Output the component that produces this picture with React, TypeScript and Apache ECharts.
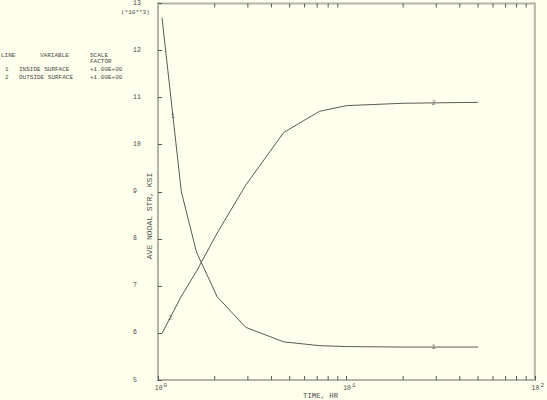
import React, { useEffect, useRef } from "react";
import * as echarts from "echarts";

const times = [1.05, 1.33, 1.6, 2.06, 2.92, 4.65, 7.2, 10, 20, 50];
const insideSurface = [12.7, 9.0, 7.72, 6.77, 6.12, 5.81, 5.73, 5.71, 5.7, 5.7];
const outsideSurface = [5.99, 6.78, 7.31, 8.12, 9.14, 10.26, 10.71, 10.83, 10.88, 10.9];
const minorTicks = [2, 3, 4, 5, 6, 7, 8, 9, 20, 30, 40, 50, 60, 70, 80, 90];
const label1Times = [1.2, 29];
const label2Times = [1.16, 29];
const yMin = 5;
const yMax = 13;

const MONO = "'Liberation Mono', 'DejaVu Sans Mono', monospace";
const INK = "#4a4a44";

function interp(t: number, xs: number[], ys: number[]): number {
  const lt = Math.log10(t);
  for (let i = 0; i < xs.length - 1; i++) {
    const a = Math.log10(xs[i]);
    const b = Math.log10(xs[i + 1]);
    if (lt >= a && lt <= b) {
      const f = (lt - a) / (b - a);
      return ys[i] + f * (ys[i + 1] - ys[i]);
    }
  }
  return ys[ys.length - 1];
}

export default function App() {
  const ref = useRef<HTMLDivElement>(null);
  useEffect(() => {
    document.body.style.margin = "0";
    const chart = echarts.init(ref.current!, null, { renderer: "svg" });
    const lineSeries = (name: string, vals: number[]) => ({
      type: "line",
      name,
      data: times.map((t, i) => [t, vals[i]]),
      symbol: "none",
      lineStyle: { color: "#5a5a55", width: 1 },
      silent: true,
    });
    const labelSeries = (txt: string, ts: number[], vals: number[]) => ({
      type: "scatter",
      data: ts.map((t) => [t, interp(t, times, vals)]),
      symbolSize: 0,
      silent: true,
      label: {
        show: true,
        position: "inside",
        formatter: txt,
        fontFamily: MONO,
        fontSize: 7,
        color: INK,
      },
    });
    const legendText = (text: string, x: number, y: number) => ({
      type: "text",
      left: x,
      top: y,
      style: { text, fontFamily: MONO, fontSize: 6, fill: INK },
    });
    chart.setOption({
      animation: false,
      backgroundColor: "#ffffee",
      grid: {
        show: true,
        left: 158,
        top: 3,
        width: 378,
        height: 377,
        borderColor: "#b4b4a6",
        borderWidth: 2,
        containLabel: false,
      },
      xAxis: {
        type: "log",
        logBase: 10,
        min: 1,
        max: 100,
        axisLine: { show: true, lineStyle: { color: "#b4b4a6", width: 2 } },
        axisTick: { show: true, inside: true, length: 4, lineStyle: { color: "#555" } },
        splitLine: { show: false },
        axisLabel: {
          margin: 2,
          formatter: (v: number) => `{b|10}{s|${Math.round(Math.log10(v))}}`,
          rich: {
            b: { fontFamily: MONO, fontSize: 6.5, color: INK, verticalAlign: "bottom", padding: [0, 0, 0, 6] },
            s: { fontFamily: MONO, fontSize: 6, color: INK, verticalAlign: "bottom", padding: [0, 0, 4, 1] },
          },
        },
      },
      yAxis: {
        type: "value",
        min: yMin,
        max: yMax,
        interval: 1,
        axisLine: { show: true, lineStyle: { color: "#b4b4a6", width: 2 } },
        axisTick: { show: true, inside: true, length: 4, lineStyle: { color: "#555" } },
        splitLine: { show: false },
        axisLabel: {
          align: "left",
          margin: 25,
          fontFamily: MONO,
          fontSize: 6.5,
          color: INK,
        },
      },
      graphic: [
        legendText("LINE", 1, 52),
        legendText("VARIABLE", 40, 52),
        legendText("SCALE", 90, 52),
        legendText("FACTOR", 90, 58),
        legendText("1", 5, 66),
        legendText("INSIDE SURFACE", 19, 66),
        legendText("+1.00E+00", 90, 66),
        legendText("2", 5, 74),
        legendText("OUTSIDE SURFACE", 19, 74),
        legendText("+1.00E+00", 90, 74),
        {
          type: "text",
          left: 121,
          top: 9,
          style: { text: "(*10**3)", fontFamily: MONO, fontSize: 6, fill: INK },
        },
        {
          type: "text",
          left: 303,
          top: 392,
          style: { text: "TIME, HR", fontFamily: MONO, fontSize: 7.3, fill: INK },
        },
        {
          type: "text",
          x: 149,
          y: 216,
          rotation: Math.PI / 2,
          style: {
            text: "AVE NODAL STR, KSI",
            fontFamily: MONO,
            fontSize: 8,
            fill: INK,
            align: "center",
            verticalAlign: "middle",
          },
        },
      ],
      series: [
        lineSeries("INSIDE SURFACE", insideSurface),
        lineSeries("OUTSIDE SURFACE", outsideSurface),
        labelSeries("1", label1Times, insideSurface),
        labelSeries("2", label2Times, outsideSurface),
        {
          type: "custom",
          silent: true,
          clip: false,
          data: minorTicks.map((v) => [v, yMin]),
          encode: { x: 0, y: 1 },
          renderItem: (_p: any, api: any) => {
            const v = api.value(0);
            const b = api.coord([v, yMin]);
            const t = api.coord([v, yMax]);
            const st = { stroke: "#555", lineWidth: 1 };
            return {
              type: "group",
              children: [
                { type: "line", shape: { x1: b[0], y1: b[1], x2: b[0], y2: b[1] - 4 }, style: st },
                { type: "line", shape: { x1: t[0], y1: t[1], x2: t[0], y2: t[1] + 4 }, style: st },
              ],
            };
          },
        },
      ],
    });
    return () => chart.dispose();
  }, []);
  return <div ref={ref} style={{ width: 547, height: 400 }} />;
}
